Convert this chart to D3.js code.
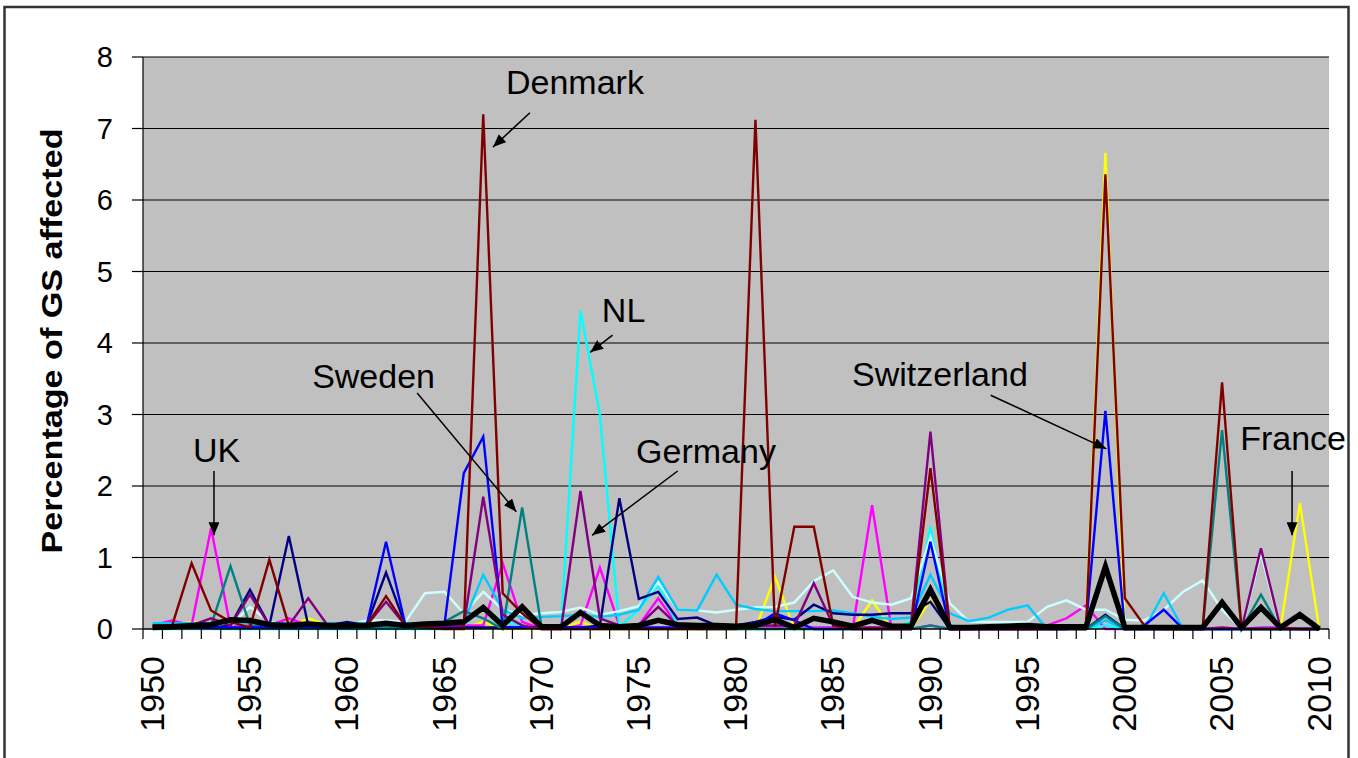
<!DOCTYPE html>
<html>
<head>
<meta charset="utf-8">
<script src="https://d3js.org/d3.v7.min.js"></script>
<style>
  body { margin: 0; background: #fff; }
  text { font-family: Arial, "Liberation Sans", sans-serif; fill: #000; }
</style>
</head>
<body>
<div id="my_dataviz"></div>
<script>
// categories (one per year) and the labelled ticks
var years = d3.range(1950, 2011);
var tickYears = [1950, 1955, 1960, 1965, 1970, 1975, 1980, 1985, 1990, 1995, 2000, 2005, 2010];
var yTicks = [0, 1, 2, 3, 4, 5, 6, 7, 8];

// series values, 1950 .. 2010
var france = [
  0, 0.05, 0.1, 0.05, 0.02, 0.02, 0.02, 0.02, 0.15, 0.05,
  0.02, 0.02, 0.02, 0.02, 0.02, 0.02, 0, 0.1, 0, 0,
  0, 0, 0.1, 0, 0, 0, 0, 0, 0, 0,
  0, 0, 0.73, 0, 0, 0, 0, 0.4, 0, 0,
  0.4, 0, 0, 0, 0, 0, 0, 0, 0, 6.66,
  0, 0, 0, 0, 0, 0, 0, 0, 0, 1.76, 0];
var uk = [
  0.05, 0.12, 0.05, 1.41, 0.03, 0.05, 0.05, 0.15, 0.05, 0.05,
  0.05, 0.05, 0.02, 0.05, 0.05, 0.05, 0.05, 0.05, 0.92, 0.1,
  0, 0, 0.05, 0.86, 0.05, 0.05, 0.43, 0.05, 0.02, 0.02,
  0.02, 0.02, 0.02, 0.02, 0.02, 0.02, 0, 1.73, 0, 0,
  0.05, 0, 0, 0, 0, 0, 0.05, 0.15, 0.33, 0,
  0, 0, 0, 0, 0, 0, 0, 0.02, 0.02, 0, 0];
var nl = [
  0, 0, 0, 0, 0, 0, 0, 0, 0, 0,
  0, 0, 0, 0, 0, 0, 0.05, 0.3, 0.1, 0.05,
  0, 0.03, 4.45, 3.0, 0.03, 0.27, 0.62, 0.05, 0, 0,
  0, 0, 0, 0, 0, 0, 0, 0, 0, 0.1,
  1.43, 0.05, 0, 0, 0, 0, 0, 0, 0, 0.05,
  0, 0, 0, 0, 0, 0, 0, 0, 0, 0, 0];
var lightCyan = [
  0, 0, 0, 0, 0.05, 0.31, 0.1, 0.05, 0.05, 0.05,
  0.05, 0.12, 0.12, 0.1, 0.5, 0.52, 0.22, 0.52, 0.27, 0.2,
  0.22, 0.24, 0.3, 0.2, 0.25, 0.32, 0.65, 0.27, 0.26, 0.23,
  0.27, 0.3, 0.31, 0.37, 0.67, 0.82, 0.45, 0.37, 0.34, 0.43,
  1.29, 0.36, 0.1, 0.1, 0.1, 0.1, 0.31, 0.4, 0.27, 0.27,
  0.13, 0.12, 0.27, 0.52, 0.68, 0.27, 0, 1.06, 0, 0, 0];
var skyBlue = [
  0.08, 0.08, 0.08, 0.08, 0.08, 0.08, 0.08, 0.08, 0.08, 0.08,
  0.08, 0.08, 0.08, 0.08, 0.08, 0.08, 0.1, 0.76, 0.27, 0.15,
  0.17, 0.18, 0.2, 0.17, 0.2, 0.27, 0.73, 0.27, 0.26, 0.76,
  0.34, 0.28, 0.25, 0.25, 0.25, 0.26, 0.22, 0.17, 0.14, 0.16,
  0.76, 0.22, 0.11, 0.16, 0.27, 0.33, 0, 0, 0, 0.12,
  0, 0, 0.5, 0, 0, 0, 0, 0, 0, 0, 0];
var navy = [
  0.02, 0.02, 0.02, 0.02, 0.05, 0.55, 0.05, 1.3, 0.05, 0.05,
  0.1, 0.05, 0.79, 0.05, 0.02, 0.02, 0.02, 0.02, 0.02, 0.02,
  0.02, 0.02, 0.02, 0.05, 1.83, 0.42, 0.52, 0.14, 0.16, 0.05,
  0.05, 0.1, 0.17, 0.13, 0.34, 0.22, 0.2, 0.2, 0.22, 0.22,
  0.38, 0, 0, 0, 0, 0, 0, 0, 0, 0.2,
  0, 0, 0, 0, 0, 0, 0, 0, 0, 0, 0];
var sweden = [
  0.03, 0.03, 0.03, 0.05, 0.88, 0.05, 0.02, 0.02, 0.02, 0.02,
  0.02, 0.02, 0.02, 0.02, 0.02, 0.1, 0.25, 0.15, 0, 1.7,
  0.03, 0, 0, 0, 0, 0, 0, 0, 0, 0,
  0, 0, 0, 0, 0, 0, 0, 0, 0, 0,
  0.05, 0, 0, 0, 0, 0, 0, 0, 0, 0.18,
  0, 0, 0, 0, 0, 2.78, 0, 0.48, 0, 0, 0];
var switzerland = [
  0.02, 0.02, 0.02, 0.02, 0.02, 0.02, 0.02, 0.02, 0.02, 0.02,
  0.02, 0.05, 1.22, 0.05, 0.02, 0.05, 2.18, 2.69, 0.03, 0.02,
  0.02, 0.02, 0.02, 0.02, 0.02, 0.02, 0.02, 0.02, 0.02, 0.02,
  0.02, 0.05, 0.22, 0.12, 0, 0, 0, 0, 0, 0,
  1.22, 0, 0, 0, 0, 0, 0, 0, 0.05, 3.05,
  0, 0.05, 0.27, 0, 0, 0, 0, 0, 0, 0, 0];
var germany = [
  0.05, 0.05, 0.05, 0.15, 0.05, 0.48, 0.05, 0.05, 0.43, 0.05,
  0.05, 0.05, 0.38, 0.05, 0.05, 0.05, 0.05, 1.85, 0.2, 0.05,
  0, 0, 1.93, 0.15, 0.05, 0.05, 0.31, 0.05, 0.05, 0.05,
  0.05, 0.05, 0.05, 0.05, 0.64, 0.05, 0.02, 0.02, 0.02, 0.05,
  2.76, 0, 0, 0, 0, 0, 0, 0, 0.05, 0.9,
  0, 0, 0, 0, 0, 0.02, 0, 1.13, 0.02, 0, 0];
var denmark = [
  0.05, 0.05, 0.92, 0.26, 0.1, 0.02, 0.97, 0.05, 0.05, 0.05,
  0.05, 0.05, 0.46, 0.05, 0.02, 0, 0, 7.2, 0.5, 0.22,
  0, 0, 0, 0, 0, 0, 0, 0, 0, 0,
  0, 7.12, 0.03, 1.43, 1.43, 0.05, 0, 0, 0, 0,
  2.25, 0, 0, 0, 0, 0, 0, 0, 0, 6.36,
  0.43, 0.05, 0, 0, 0, 3.45, 0, 0, 0, 0, 0];
var average = [
  0.02, 0.03, 0.05, 0.06, 0.13, 0.12, 0.06, 0.05, 0.07, 0.05,
  0.05, 0.05, 0.08, 0.05, 0.07, 0.08, 0.1, 0.3, 0.05, 0.31,
  0.03, 0.03, 0.23, 0.05, 0.03, 0.05, 0.12, 0.06, 0.05, 0.05,
  0.04, 0.05, 0.13, 0.02, 0.15, 0.1, 0.04, 0.12, 0.04, 0.04,
  0.55, 0.02, 0.02, 0.03, 0.04, 0.05, 0.03, 0.03, 0.03, 0.87,
  0.02, 0.02, 0.02, 0.02, 0.02, 0.37, 0.02, 0.3, 0.02, 0.2, 0];

// drawing order, and a colour / width for each line
var seriesValues = [france, uk, nl, lightCyan, skyBlue, navy, sweden, switzerland, germany, denmark, average];
var seriesColors = ["#FFFF00", "#FF00FF", "#00FFFF", "#CCFFFF", "#00CCFF", "#000080", "#008080", "#0000FF", "#800080", "#800000", "#000000"];
var seriesWidths = [2.4, 2.4, 2.4, 2.4, 2.4, 2.4, 2.4, 2.4, 2.4, 2.4, 5.5];

// labels with arrows, placed in data units (year, value)
var notes = [
  {label: "Denmark", tx: 1968.17, ty: 7.48, x1: 1969.4, y1: 7.22, x2: 1967.5, y2: 6.74},
  {label: "NL", tx: 1973.1, ty: 4.29, x1: 1973.65, y1: 4.11, x2: 1972.5, y2: 3.87},
  {label: "Sweden", tx: 1958.2, ty: 3.37, x1: 1963.6, y1: 3.3, x2: 1968.7, y2: 1.64},
  {label: "Germany", tx: 1974.86, ty: 2.32, x1: 1977.0, y1: 2.21, x2: 1972.6, y2: 1.31},
  {label: "Switzerland", tx: 1985.97, ty: 3.4, x1: 1993.1, y1: 3.27, x2: 1999.05, y2: 2.52},
  {label: "UK", tx: 1952.07, ty: 2.34, x1: 1953.15, y1: 2.21, x2: 1953.15, y2: 1.31},
  {label: "France", tx: 2005.93, ty: 2.5, x1: 2008.6, y1: 2.21, x2: 2008.6, y2: 1.31}
];

// set the dimensions of the graph
var W = 1358, H = 758;
var plot = {left: 143, right: 1329, top: 57, bottom: 629};

var svg = d3.select("#my_dataviz")
  .append("svg")
    .attr("width", W)
    .attr("height", H)
    .style("display", "block");

// outer chart frame
svg.append("rect")
  .attr("x", 4.5).attr("y", 7)
  .attr("width", 1344).attr("height", 820)
  .attr("fill", "#fff")
  .attr("stroke", "#333")
  .attr("stroke-width", 2.5);

// X: one slot per year, points sit in the middle of the slot
var x = d3.scalePoint()
  .domain(years)
  .range([plot.left, plot.right])
  .padding(0.5);
var step = x.step();
// continuous version of the same axis, for the notes
var xLin = d3.scaleLinear()
  .domain([years[0], years[years.length - 1]])
  .range([x(years[0]), x(years[years.length - 1])]);

var y = d3.scaleLinear()
  .domain([0, 8])
  .range([plot.bottom, plot.top]);

// grey plot area
svg.append("rect")
  .attr("x", plot.left).attr("y", plot.top)
  .attr("width", plot.right - plot.left)
  .attr("height", plot.bottom - plot.top)
  .attr("fill", "#C0C0C0");

// horizontal gridlines
svg.append("g")
  .selectAll("line")
  .data(yTicks.filter(function(d) { return d > 0; }))
  .enter()
  .append("line")
    .attr("x1", plot.left).attr("x2", plot.right)
    .attr("y1", function(d) { return y(d); })
    .attr("y2", function(d) { return y(d); })
    .attr("stroke", "#000")
    .attr("stroke-width", 1.2);

// the lines
var line = d3.line()
  .x(function(d, i) { return x(years[i]); })
  .y(function(d) { return y(d); });

svg.append("g")
  .selectAll("path")
  .data(seriesValues)
  .enter()
  .append("path")
    .attr("d", line)
    .attr("fill", "none")
    .attr("stroke", function(d, i) { return seriesColors[i]; })
    .attr("stroke-width", function(d, i) { return seriesWidths[i]; })
    .attr("stroke-linejoin", "miter")
    .attr("stroke-miterlimit", 4);

// Y axis
var yAxis = svg.append("g");
yAxis.append("line")
  .attr("x1", plot.left).attr("x2", plot.left)
  .attr("y1", plot.top).attr("y2", plot.bottom)
  .attr("stroke", "#000").attr("stroke-width", 1.2);
yAxis.selectAll(".tick")
  .data(yTicks)
  .enter()
  .append("line")
    .attr("x1", plot.left - 11).attr("x2", plot.left)
    .attr("y1", function(d) { return y(d); })
    .attr("y2", function(d) { return y(d); })
    .attr("stroke", "#000").attr("stroke-width", 1.2);
yAxis.selectAll("text")
  .data(yTicks)
  .enter()
  .append("text")
    .attr("x", plot.left - 30)
    .attr("y", function(d) { return y(d); })
    .attr("dy", "0.35em")
    .attr("text-anchor", "end")
    .style("font-size", "29px")
    .text(function(d) { return d; });

// X axis: ticks between the year slots
var xAxis = svg.append("g");
xAxis.append("line")
  .attr("x1", plot.left).attr("x2", plot.right)
  .attr("y1", plot.bottom).attr("y2", plot.bottom)
  .attr("stroke", "#000").attr("stroke-width", 1.5);
xAxis.selectAll(".tick")
  .data(years.concat([years[years.length - 1] + 1]))
  .enter()
  .append("line")
    .attr("x1", function(d) { return x.range()[0] + (d - years[0]) * step; })
    .attr("x2", function(d) { return x.range()[0] + (d - years[0]) * step; })
    .attr("y1", plot.bottom).attr("y2", plot.bottom + 10)
    .attr("stroke", "#000").attr("stroke-width", 1.2);
xAxis.selectAll("text")
  .data(tickYears)
  .enter()
  .append("text")
    .attr("transform", function(d) { return "translate(" + (x(d) - 1) + "," + (plot.bottom + 27) + ") rotate(-90)"; })
    .attr("dy", "0.36em")
    .attr("text-anchor", "end")
    .style("font-size", "34px")
    .text(function(d) { return d; });

// Y axis title
svg.append("text")
  .attr("transform", "translate(62,341) rotate(-90)")
  .attr("text-anchor", "middle")
  .attr("textLength", 425)
  .attr("lengthAdjust", "spacingAndGlyphs")
  .style("font-size", "29px")
  .style("font-weight", "bold")
  .text("Percentage of GS affected");

// arrow head
svg.append("defs")
  .append("marker")
    .attr("id", "head")
    .attr("viewBox", "0 0 12 10")
    .attr("refX", 12).attr("refY", 5)
    .attr("markerUnits", "userSpaceOnUse")
    .attr("markerWidth", 13).attr("markerHeight", 11)
    .attr("orient", "auto")
  .append("path")
    .attr("d", "M0,0 L12,5 L0,10 Z")
    .attr("fill", "#000");

// notes
var noteG = svg.append("g");
noteG.selectAll("line")
  .data(notes)
  .enter()
  .append("line")
    .attr("x1", function(d) { return xLin(d.x1); })
    .attr("y1", function(d) { return y(d.y1); })
    .attr("x2", function(d) { return xLin(d.x2); })
    .attr("y2", function(d) { return y(d.y2); })
    .attr("stroke", "#000")
    .attr("stroke-width", 1.5)
    .attr("marker-end", "url(#head)");
noteG.selectAll("text")
  .data(notes)
  .enter()
  .append("text")
    .attr("x", function(d) { return xLin(d.tx); })
    .attr("y", function(d) { return y(d.ty); })
    .style("font-size", "34px")
    .text(function(d) { return d.label; });
</script>
</body>
</html>
